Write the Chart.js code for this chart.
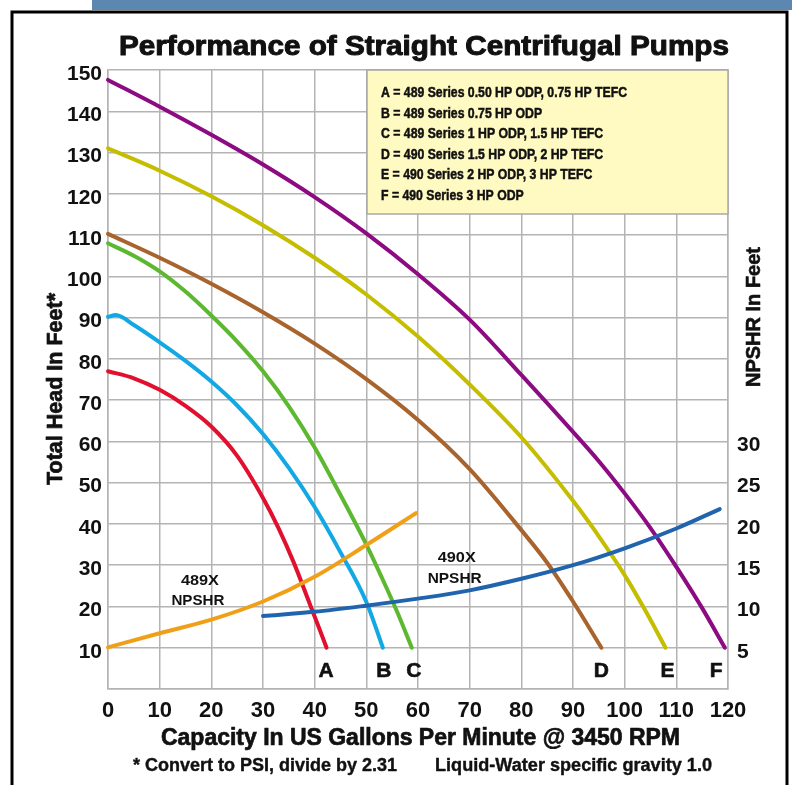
<!DOCTYPE html>
<html>
<head>
<meta charset="utf-8">
<script src="https://cdn.jsdelivr.net/npm/chart.js@4.4.1/dist/chart.umd.min.js"></script>
<style>
  html, body { margin: 0; padding: 0; background: #fff; }
  #wrap { width: 792px; height: 785px; position: relative; }
</style>
</head>
<body>
<div id="wrap"><canvas id="pumpChart"></canvas></div>
<script>
// pump curves: capacity (US gpm) vs total head (ft)
const flowA = [0, 5, 10, 15, 20, 25, 30, 33, 36, 39, 41, 42.3];
const headA = [77, 75.3, 72.5, 68.6, 63.6, 56.5, 46.3, 39, 30.5, 20.8, 14.3, 10];
const flowB = [0, 1.5, 5, 10, 15, 20, 25, 30, 35, 40, 45, 50, 53.2];
const headB = [90.2, 90.6, 88.2, 84, 79.5, 74.5, 68.7, 61.8, 53.6, 44.1, 33.1, 21.1, 10];
const flowC = [0, 5, 10, 15, 20, 25, 30, 35, 40, 45, 50, 53, 56, 58.8];
const headC = [108, 105, 101.2, 96.3, 90.5, 84.2, 77, 68.5, 58.5, 47, 35, 27, 18.6, 10];
const flowD = [0, 10, 20, 30, 40, 50, 60, 70, 80, 85, 90, 95.5];
const headD = [110.3, 104.5, 98.2, 91.3, 83.7, 75.1, 65.2, 53.3, 38.5, 30.6, 21.2, 10];
const flowE = [0, 10, 20, 30, 40, 50, 60, 70, 80, 90, 95, 100, 104, 107.9];
const headE = [131, 125.6, 119.4, 112.4, 104.5, 95.6, 85.4, 73.8, 61, 45.6, 37, 27.6, 19, 10];
const flowF = [0, 10, 20, 30, 40, 50, 60, 70, 80, 90, 95, 100, 105, 110, 115, 119.4];
const headF = [147.6, 141.1, 134.3, 127.1, 119.2, 110.4, 100.5, 89.5, 76.1, 62.3, 55.2, 47.4, 39, 29.6, 19.6, 10];

// NPSHR curves (ft, right axis)
const flow489X = [0, 10, 20, 30, 40, 50, 56.5, 59.6];
const npshr489X = [5.05, 6.75, 8.4, 10.6, 13.6, 17.45, 20.05, 21.3];
const flow490X = [30, 40, 50, 60, 70, 80, 90, 100, 110, 118.4];
const npshr490X = [8.85, 9.35, 10.1, 10.95, 11.95, 13.35, 15, 17.05, 19.45, 21.8];

// curve letters and where they sit under each curve end
const curveNames = ['A', 'B', 'C', 'D', 'E', 'F'];
const curveLetterFlow = [42.2, 53.4, 59.2, 95.5, 108.3, 117.7];
const curveColors = ['#e0102e', '#12a8e4', '#5cb82e', '#a8642c', '#c5bd00', '#8c0a82'];

// tick labels
const headTickLabels = [10, 20, 30, 40, 50, 60, 70, 80, 90, 100, 110, 120, 130, 140, 150];
const npshrTickLabels = [5, 10, 15, 20, 25, 30];

const legendLines = [
  'A = 489 Series 0.50 HP ODP, 0.75 HP TEFC',
  'B = 489 Series 0.75 HP ODP',
  'C = 489 Series 1 HP ODP, 1.5 HP TEFC',
  'D = 490 Series 1.5 HP ODP, 2 HP TEFC',
  'E = 490 Series 2 HP ODP, 3 HP TEFC',
  'F = 490 Series 3 HP ODP',
];

const FONT = '"Liberation Sans", Arial, Helvetica, sans-serif';
const GRID = '#b4b4b4';
const INK = '#111';

function pts(xs, ys) {
  return xs.map((x, i) => ({ x: x, y: ys[i] }));
}

const pumpFlows = [flowA, flowB, flowC, flowD, flowE, flowF];
const pumpHeads = [headA, headB, headC, headD, headE, headF];

const datasets = curveNames.map((name, i) => ({
  label: name,
  data: pts(pumpFlows[i], pumpHeads[i]),
  borderColor: curveColors[i],
  yAxisID: 'y',
  order: 1,
}));
datasets.push({
  label: '489X NPSHR',
  data: pts(flow489X, npshr489X),
  borderColor: '#f0a018',
  yAxisID: 'y2',
  order: 0,
});
datasets.push({
  label: '490X NPSHR',
  data: pts(flow490X, npshr490X),
  borderColor: '#1f64ad',
  yAxisID: 'y2',
  order: 0,
});

// bold text, optionally squeezed to a width, with a thin stroke to fatten it
function put(ctx, s, x, y, size, align, w, fat) {
  ctx.save();
  ctx.font = 'bold ' + size + 'px ' + FONT;
  ctx.textBaseline = 'alphabetic';
  ctx.textAlign = 'left';
  const m = ctx.measureText(s).width;
  const k = w ? w / m : 1;
  const left = align === 'center' ? x - (m * k) / 2 : align === 'right' ? x - m * k : x;
  ctx.translate(left, y);
  ctx.scale(k, 1);
  ctx.fillStyle = INK;
  ctx.fillText(s, 0, 0);
  if (fat) {
    ctx.strokeStyle = INK;
    ctx.lineWidth = fat;
    ctx.lineJoin = 'round';
    ctx.strokeText(s, 0, 0);
  }
  ctx.restore();
}

function putUp(ctx, s, x, y, size, w, fat) {
  ctx.save();
  ctx.translate(x, y);
  ctx.rotate(-Math.PI / 2);
  put(ctx, s, 0, 0, size, 'center', w, fat);
  ctx.restore();
}

const decor = {
  id: 'decor',
  beforeDraw(chart) {
    const ctx = chart.ctx;
    ctx.save();
    ctx.fillStyle = '#fff';
    ctx.fillRect(0, 0, chart.width, chart.height);
    ctx.fillStyle = '#5b87b1';
    ctx.fillRect(92, 0, chart.width - 92, 10);
    ctx.strokeStyle = '#000';
    ctx.lineWidth = 3;
    ctx.beginPath();
    ctx.moveTo(12, chart.height);
    ctx.lineTo(12, 12);
    ctx.lineTo(787, 12);
    ctx.lineTo(787, chart.height);
    ctx.stroke();
    ctx.restore();
  },
  afterDraw(chart) {
    const ctx = chart.ctx;
    const xs = chart.scales.x;
    const ys = chart.scales.y;
    const area = chart.chartArea;
    ctx.save();

    // title
    put(ctx, 'Performance of Straight Centrifugal Pumps', 119, 55, 27, 'left', 610, 1);

    // legend box
    ctx.fillStyle = '#fffac2';
    ctx.fillRect(367, area.top, area.right - 367, 214 - area.top);
    ctx.strokeStyle = '#a8a8a8';
    ctx.lineWidth = 1.5;
    ctx.strokeRect(367, area.top, area.right - 367, 214 - area.top);
    ctx.font = 'bold 15px ' + FONT;
    const k = 246 / ctx.measureText(legendLines[0]).width;
    legendLines.forEach((line, i) => {
      ctx.save();
      ctx.font = 'bold 15px ' + FONT;
      ctx.translate(381, 97 + i * 20.5);
      ctx.scale(k, 1);
      ctx.fillStyle = INK;
      ctx.strokeStyle = INK;
      ctx.lineWidth = 0.5;
      ctx.fillText(line, 0, 0);
      ctx.strokeText(line, 0, 0);
      ctx.restore();
    });

    // curve letters
    curveNames.forEach((name, i) => {
      put(ctx, name, xs.getPixelForValue(curveLetterFlow[i]), ys.getPixelForValue(3), 21, 'center', null, 0.6);
    });

    // NPSHR labels
    put(ctx, '489X', xs.getPixelForValue(17.8), ys.getPixelForValue(25.2), 15, 'center', 38);
    put(ctx, 'NPSHR', xs.getPixelForValue(17.4), ys.getPixelForValue(20.4), 15, 'center', 53);
    put(ctx, '490X', xs.getPixelForValue(67.5), ys.getPixelForValue(30.8), 15, 'center', 38);
    put(ctx, 'NPSHR', xs.getPixelForValue(67.1), ys.getPixelForValue(25.7), 15, 'center', 54);

    // axis titles
    putUp(ctx, 'Total Head In Feet*', 62, 389, 22, 192, 0.7);
    putUp(ctx, 'NPSHR In Feet', 760, 317, 20, 140, 0.6);
    put(ctx, 'Capacity In US Gallons Per Minute @ 3450 RPM', 161, 745, 23, 'left', 519, 0.7);
    put(ctx, '* Convert to PSI, divide by 2.31', 133, 771, 18, 'left', 264, 0.4);
    put(ctx, 'Liquid-Water specific gravity 1.0', 435, 771, 18, 'left', 277, 0.4);
    ctx.restore();
  },
};

const tickFont = (size) => ({ family: FONT, size: size, weight: 'bold' });

new Chart(document.getElementById('pumpChart'), {
  type: 'line',
  data: { datasets: datasets },
  options: {
    responsive: true,
    maintainAspectRatio: false,
    animation: false,
    layout: { padding: { top: 70, left: 0, right: 0, bottom: 0 } },
    elements: {
      point: { radius: 0, hoverRadius: 0 },
      line: {
        borderWidth: 4,
        cubicInterpolationMode: 'monotone',
        borderCapStyle: 'round',
        borderJoinStyle: 'round',
        fill: false,
      },
    },
    datasets: { line: { clip: false } },
    scales: {
      x: {
        type: 'linear',
        min: 0,
        max: 120,
        afterFit: (s) => { s.height = 96; },
        ticks: { stepSize: 10, padding: 9, color: INK, font: tickFont(22), maxRotation: 0 },
        grid: { color: GRID, lineWidth: 1.5, drawTicks: false },
        border: { color: GRID, width: 1.5 },
      },
      y: {
        type: 'linear',
        position: 'left',
        min: 0,
        max: 150,
        afterFit: (s) => { s.width = 108; },
        ticks: {
          stepSize: 10,
          padding: 6,
          labelOffset: 4,
          color: INK,
          font: tickFont(21),
          callback: (v) => (headTickLabels.includes(v) ? v : ''),
        },
        grid: { color: GRID, lineWidth: 1.5, drawTicks: false },
        border: { color: GRID, width: 1.5 },
      },
      y2: {
        type: 'linear',
        position: 'right',
        min: 0,
        max: 75,
        afterFit: (s) => { s.width = 64; },
        ticks: {
          stepSize: 5,
          padding: 9,
          labelOffset: 4,
          color: INK,
          font: tickFont(21),
          callback: (v) => (npshrTickLabels.includes(v) ? v : ''),
        },
        grid: { drawOnChartArea: false, drawTicks: false },
        border: { color: GRID, width: 1.5 },
      },
    },
    plugins: {
      legend: { display: false },
      tooltip: { enabled: false },
      title: { display: false },
    },
  },
  plugins: [decor],
});
</script>
</body>
</html>
